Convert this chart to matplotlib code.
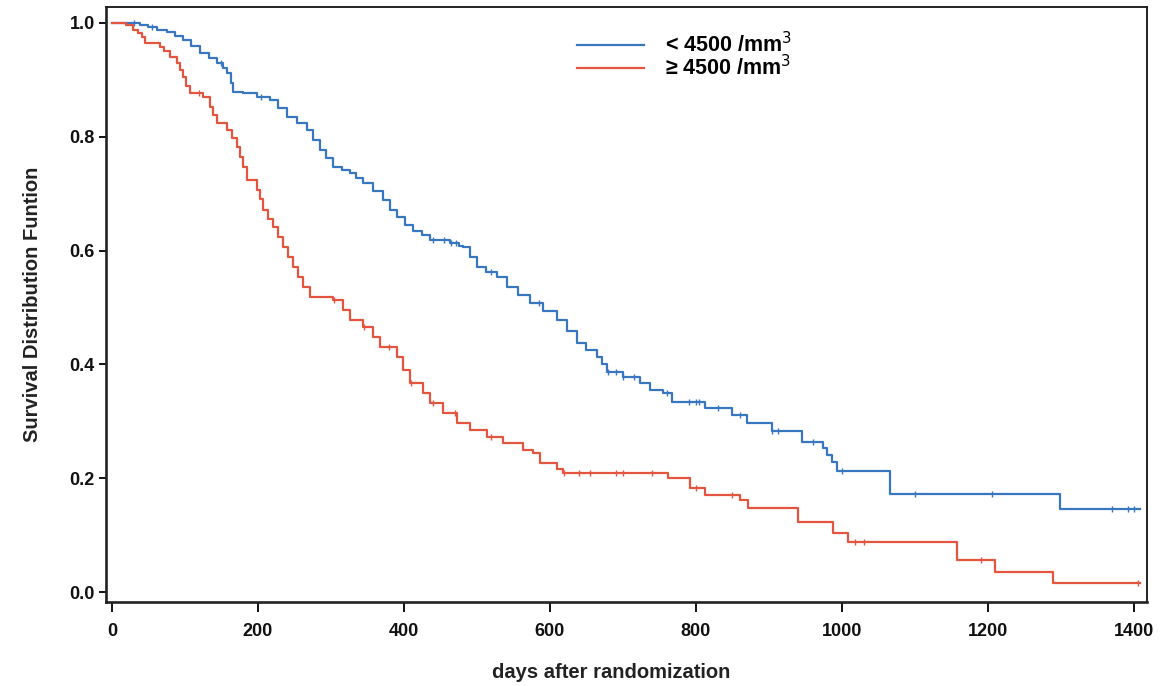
import numpy as np
import matplotlib
matplotlib.use("Agg")
import matplotlib.pyplot as plt

# ---- data (step curves, steps-post) ----
low_days = [0, 38, 50, 62, 75, 86, 97, 108, 121, 133, 144, 152, 158, 163, 166, 180, 199, 216,
            228, 240, 254, 267, 276, 285, 294, 303, 315, 326, 335, 344, 358, 372, 381, 390, 402,
            413, 425, 436, 463, 475, 481, 490, 500, 512, 527, 541, 556, 573, 590, 610, 623, 637,
            650, 664, 671, 678, 700, 723, 737, 755, 768, 812, 849, 870, 905, 945, 974, 980, 987,
            993, 1066, 1299, 1408]
low_surv = [1.000, 0.996, 0.992, 0.988, 0.984, 0.977, 0.970, 0.960, 0.947, 0.938, 0.930, 0.921,
            0.912, 0.895, 0.879, 0.876, 0.870, 0.865, 0.850, 0.835, 0.824, 0.812, 0.795, 0.777,
            0.762, 0.747, 0.741, 0.736, 0.727, 0.719, 0.705, 0.688, 0.672, 0.659, 0.645, 0.635,
            0.627, 0.619, 0.613, 0.608, 0.606, 0.588, 0.571, 0.562, 0.554, 0.536, 0.522, 0.508,
            0.494, 0.478, 0.458, 0.438, 0.425, 0.413, 0.400, 0.387, 0.378, 0.367, 0.355, 0.350,
            0.334, 0.323, 0.311, 0.297, 0.283, 0.264, 0.253, 0.240, 0.228, 0.212, 0.172, 0.146,
            0.146]
low_censor = [30, 55, 150, 205, 440, 455, 465, 472, 520, 585, 680, 690, 700, 715, 760, 790, 800,
              805, 830, 860, 905, 912, 960, 1000, 1100, 1205, 1370, 1392, 1400]

high_days = [0, 20, 29, 36, 42, 45, 66, 72, 79, 89, 93, 97, 102, 107, 125, 134, 139, 144, 158,
             165, 171, 175, 179, 185, 199, 203, 207, 214, 221, 228, 234, 241, 248, 255, 262, 271,
             303, 316, 326, 344, 358, 367, 390, 399, 408, 426, 436, 453, 473, 490, 514, 536, 563,
             577, 586, 610, 618, 762, 792, 812, 860, 871, 940, 988, 1008, 1158, 1210, 1289, 1408]
high_surv = [1.000, 0.996, 0.988, 0.982, 0.975, 0.965, 0.958, 0.950, 0.940, 0.930, 0.918, 0.905,
             0.890, 0.877, 0.870, 0.852, 0.838, 0.824, 0.812, 0.797, 0.782, 0.765, 0.747, 0.724,
             0.707, 0.690, 0.671, 0.656, 0.641, 0.624, 0.606, 0.588, 0.571, 0.553, 0.536, 0.518,
             0.513, 0.495, 0.478, 0.466, 0.448, 0.431, 0.413, 0.390, 0.367, 0.350, 0.332, 0.315,
             0.297, 0.285, 0.272, 0.262, 0.250, 0.244, 0.227, 0.216, 0.209, 0.200, 0.183, 0.170,
             0.162, 0.148, 0.123, 0.104, 0.088, 0.056, 0.035, 0.016, 0.016]
high_censor = [120, 305, 345, 380, 410, 440, 470, 520, 620, 640, 655, 690, 700, 740, 800, 850,
               1018, 1030, 1190, 1405]

labels = ["< 4500 /mm$^3$", "\u2265 4500 /mm$^3$"]
xticks = [0, 200, 400, 600, 800, 1000, 1200, 1400]
yticks = [0.0, 0.2, 0.4, 0.6, 0.8, 1.0]

BLUE = "#3877c0"
RED = "#e3553e"

plt.rcParams['font.family'] = ['Liberation Sans', 'DejaVu Sans']

fig = plt.figure(figsize=(11.66, 6.86), dpi=100)
ax = fig.add_axes([0.0909, 0.1224, 0.8928, 0.8674])


def step_value(days, surv, t):
    idx = np.searchsorted(np.asarray(days), t, side='right') - 1
    return np.asarray(surv)[idx]


for days, surv, cens, col, lab in [(low_days, low_surv, low_censor, BLUE, labels[0]),
                                    (high_days, high_surv, high_censor, RED, labels[1])]:
    ax.plot(days, surv, drawstyle='steps-post', color=col, lw=1.6, label=lab)
    cy = [step_value(days, surv, t) for t in cens]
    ax.plot(cens, cy, linestyle='none', marker='|', markersize=5, markeredgewidth=1.0,
            color=col)

ax.set_xlim(-8, 1418)
ax.set_ylim(-0.0176, 1.028)
ax.set_xticks(xticks)
ax.set_xticklabels([str(v) for v in xticks])
ax.set_yticks(yticks)
ax.set_yticklabels([f"{v:.1f}" for v in yticks])
ax.tick_params(axis='x', direction='out', length=7, width=1.4, labelsize=13,
               colors='#111111', pad=8)
ax.tick_params(axis='y', direction='out', length=5, width=1.4, labelsize=13,
               colors='#111111', pad=3)
for lab in ax.get_xticklabels() + ax.get_yticklabels():
    lab.set_fontweight('bold')

for side, sp in ax.spines.items():
    sp.set_color('#222222')
    sp.set_linewidth(1.9 if side in ('left', 'bottom') else 1.4)

ax.set_xlabel("days after randomization", fontsize=14.5, fontweight='bold', color='#222222')
ax.xaxis.set_label_coords(0.485, -0.102)
ax.set_ylabel("Survival Distribution Funtion", fontsize=14.5, fontweight='bold',
              color='#222222', labelpad=20)

leg = ax.legend(loc='upper left', bbox_to_anchor=(0.434, 0.99), frameon=False, fontsize=15.5,
                handlelength=3.1, handletextpad=1.0, labelspacing=-0.1)
for t in leg.get_texts():
    t.set_fontweight('bold')

fig.savefig("out.png", dpi=100)
